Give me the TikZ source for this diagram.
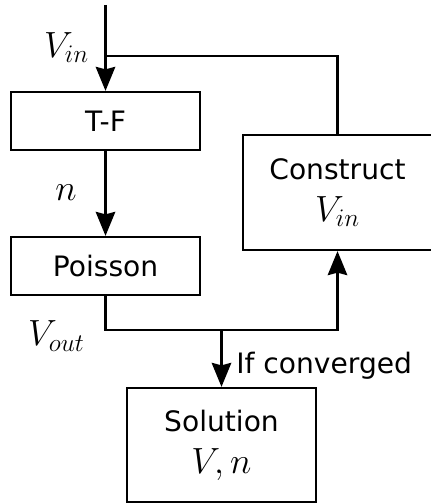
\documentclass[tikz,border=0pt]{standalone}
\usepackage{fontspec}
\setsansfont{DejaVu Sans}
\usepackage{tikz}
\usetikzlibrary{arrows.meta,positioning,calc}
\newcommand{\mathlbl}[1]{{\fontsize{20.74}{24}\selectfont$#1$}}
\tikzset{
  blk/.style={draw, line width=1.3pt, minimum width=3.78cm, align=center, inner sep=0pt, font=\sffamily\fontsize{16}{24}\selectfont},
  arr/.style={-{Stealth[length=4.8mm,width=3.9mm,inset=0.5mm]}, line width=1.3pt},
  wire/.style={line width=1.3pt},
  lbl/.style={inner sep=0pt},
  cond/.style={inner sep=0pt, anchor=base west, font=\sffamily\fontsize{16}{19}\selectfont}
}
\begin{document}
\begin{tikzpicture}
\useasboundingbox (0,0) rectangle (8.6,-10.08);
% blocks
\node[blk, minimum height=1.16cm] (tf) at (2.11,-2.42) {T-F};
\node[blk, minimum height=1.16cm] (poisson) at (2.11,-5.32) {Poisson};
\node[blk, minimum height=2.3cm] (construct) at (6.75,-3.85) {Construct\\\mathlbl{V_{in}}};
\node[blk, minimum height=2.28cm] (solution) at (4.43,-8.9) {Solution\\\mathlbl{V,n}};
% branch points
\coordinate (in) at (2.11,-0.1);
\coordinate (split) at (2.11,-1.12);
\coordinate (join) at (4.43,-6.6);
% connectors
\draw[arr] (in) -- (tf);
\draw[wire] (split) -| (construct);
\draw[arr] (tf) -- (poisson);
\draw[arr] (poisson) |- (join) -| (construct);
\draw[arr] (join) -- (solution);
% labels
\node[lbl] (vin) at (1.33,-0.95) {\mathlbl{V_{in}}};
\node[lbl] (dens) at (1.32,-3.85) {\mathlbl{n}};
\node[lbl] (vout) at (1.13,-6.72) {\mathlbl{V_{out}}};
\node[cond] (conv) at (4.72,-7.46) {If converged};
\end{tikzpicture}
\end{document}
